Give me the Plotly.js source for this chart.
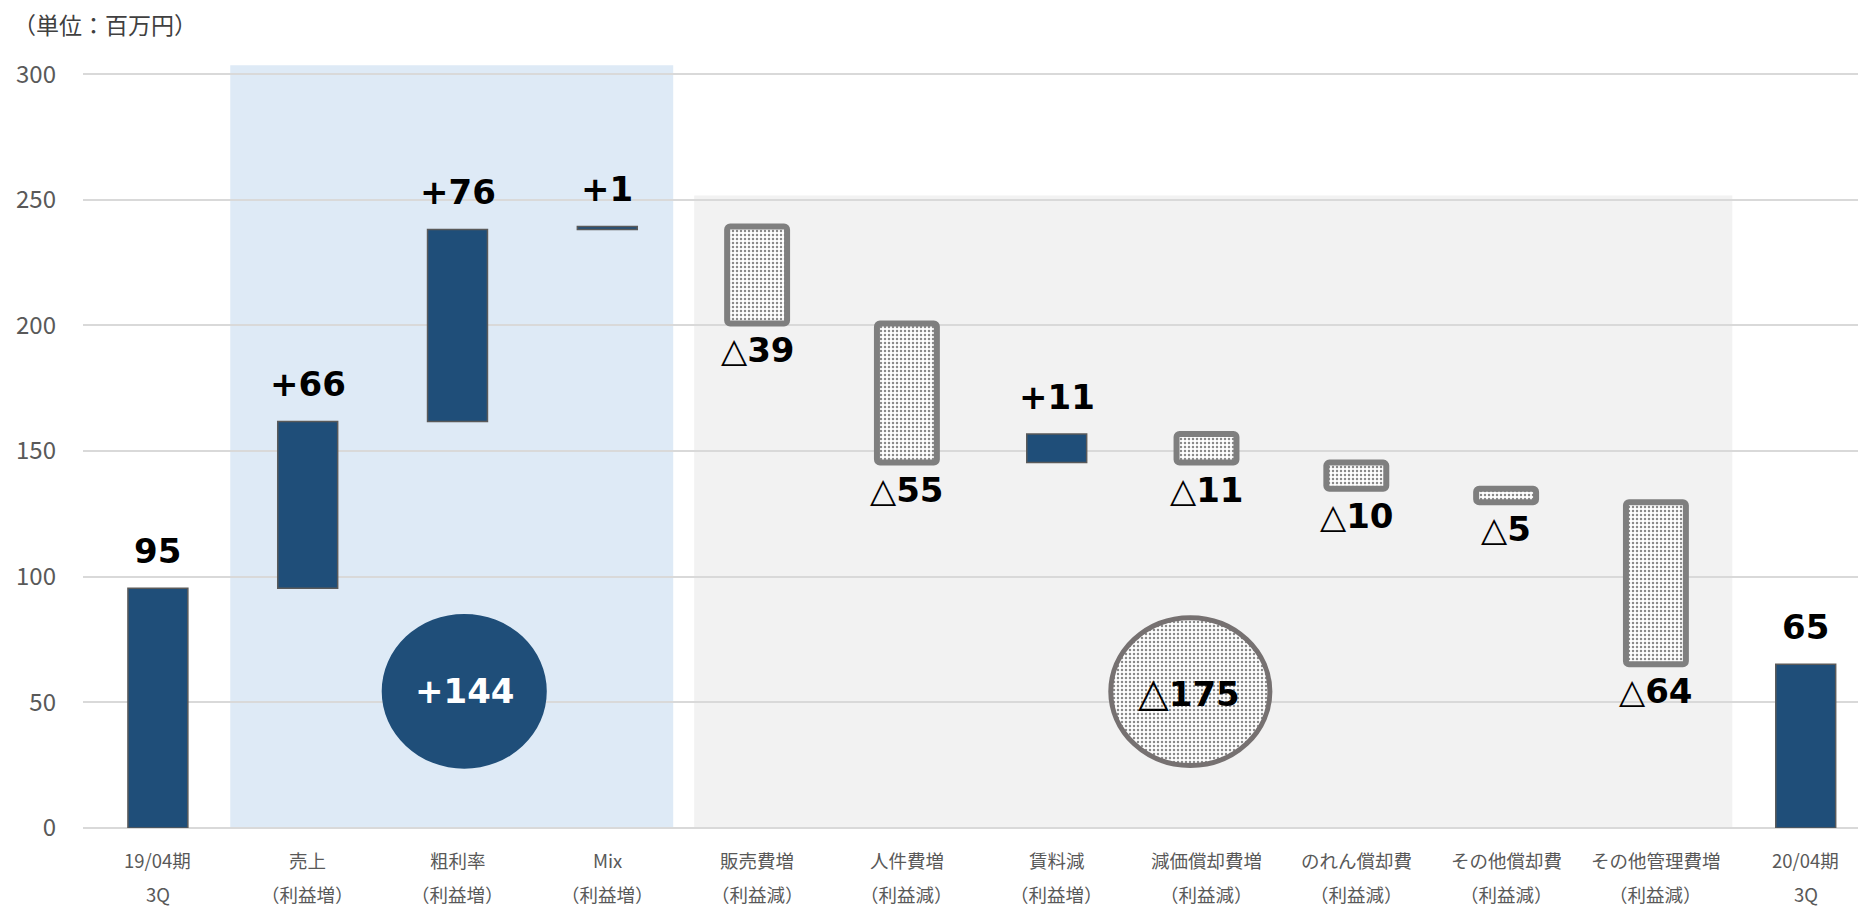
<!DOCTYPE html>
<html>
<head>
<meta charset="utf-8">
<script src="https://cdn.plot.ly/plotly-3.0.1.min.js"></script>
<style>html,body{margin:0;padding:0;background:#fff;}#chart{width:1858px;height:907px;}</style>
</head>
<body>
<div id="chart"></div>
<script>
// ---- data ----
const categories = ['19/04期','売上','粗利率','Mix','販売費増','人件費増','賃料減','減価償却費増','のれん償却費','その他償却費','その他管理費増','20/04期'];
const subLabels = ['3Q','（利益増）','（利益増）','（利益増）','（利益減）','（利益減）','（利益増）','（利益減）','（利益減）','（利益減）','（利益減）','3Q'];
const startValue = 95.4;
const deltas = [66.4, 76.4, 1.2, -38.6, -55.4, 11.4, -11.4, -10.4, -5.4, -64.4];
const endValue = 65.2;
const summaryTexts = ['+144', '△175'];
const yTicks = [0, 50, 100, 150, 200, 250, 300];

// ---- derived waterfall geometry ----
const solidX = [], solidBase = [], solidH = [];
const hatchX = [], hatchBase = [], hatchH = [];
const labelAnn = [];
const BLUE = '#1F4E79';
const labelFont = {family: 'DejaVu Sans, Verdana, sans-serif', size: 34, color: '#000000'};
const fmt = v => String(Math.round(Math.abs(v)));

solidX.push(0); solidBase.push(0); solidH.push(startValue);
labelAnn.push({x: 0, y: startValue, yshift: 37, text: '<b>' + fmt(startValue) + '</b>'});
let level = startValue;
deltas.forEach((d, k) => {
  const i = k + 1;
  if (d >= 0) {
    solidX.push(i); solidBase.push(level); solidH.push(d);
    labelAnn.push({x: i, y: level + d, yshift: 37, text: '<b>+' + fmt(d) + '</b>'});
  } else {
    hatchX.push(i); hatchBase.push(level + d); hatchH.push(-d);
    labelAnn.push({x: i, y: level + d, yshift: -27, text: '△<b>' + fmt(d) + '</b>'});
  }
  level += d;
});
const lastI = categories.length - 1;
solidX.push(lastI); solidBase.push(0); solidH.push(endValue);
labelAnn.push({x: lastI, y: endValue, yshift: 37, text: '<b>' + fmt(endValue) + '</b>'});

const traces = [
  {
    type: 'bar', x: solidX, y: solidH, base: solidBase, width: 0.4,
    marker: {color: BLUE, line: {color: '#5a5a5a', width: 1.5}},
    hoverinfo: 'skip', showlegend: false
  },
  {
    type: 'bar', x: hatchX, y: hatchH, base: hatchBase, width: 0.4,
    marker: {
      color: '#ffffff',
      cornerradius: 3,
      line: {color: '#7f7f7f', width: 6},
      pattern: {shape: '.', fgcolor: '#8a8a8a', bgcolor: '#ffffff', size: 4, solidity: 0.3}
    },
    hoverinfo: 'skip', showlegend: false
  }
];

const annotations = [];
labelAnn.forEach(a => annotations.push({
  x: a.x, y: a.y, xref: 'x', yref: 'y', yshift: a.yshift, yanchor: 'middle',
  text: a.text, showarrow: false, font: labelFont
}));
const catFont = {family: 'Noto Sans CJK JP', size: 18.5, color: '#595959'};
categories.forEach((c, i) => {
  annotations.push({x: i, y: 0, xref: 'x', yref: 'paper', yanchor: 'middle', yshift: -32,
    text: c, showarrow: false, font: catFont});
  annotations.push({x: i, y: 0, xref: 'x', yref: 'paper', yanchor: 'middle', yshift: -66,
    text: subLabels[i], showarrow: false, font: catFont});
});
// summary badges
annotations.push({x: 2.045, y: 54.4, xref: 'x', yref: 'y', text: '<b>' + summaryTexts[0] + '</b>', showarrow: false,
  font: {family: 'DejaVu Sans, Verdana, sans-serif', size: 34, color: '#ffffff'}});
annotations.push({x: 6.88, y: 54.3, xref: 'x', yref: 'y',
  text: '<span style="font-size:40px">△</span>' + '<b>' + summaryTexts[1].replace('△', '') + '</b>', showarrow: false,
  font: {family: 'DejaVu Sans, Verdana, sans-serif', size: 34, color: '#000000'}});

const shapes = [
  {type: 'rect', xref: 'x', yref: 'y', x0: 0.483, x1: 3.44, y0: 0, y1: 303.5, fillcolor: '#DEEAF6', line: {width: 0}, layer: 'below'},
  {type: 'rect', xref: 'x', yref: 'y', x0: 3.58, x1: 10.51, y0: 0, y1: 251.7, fillcolor: '#F2F2F2', line: {width: 0}, layer: 'below'},
  {type: 'circle', xref: 'x', yref: 'y', x0: 1.494, x1: 2.596, y0: 23.6, y1: 85.2, fillcolor: BLUE, line: {width: 0}, layer: 'above'},
  {type: 'circle', xref: 'x', yref: 'y', x0: 6.361, x1: 7.423, y0: 24.9, y1: 83.7, fillcolor: '#e2e2e2', line: {color: '#767171', width: 5}, layer: 'above'}
];

const layout = {
  width: 1858, height: 907,
  margin: {l: 83, r: 0, t: 49, b: 79, pad: 0},
  paper_bgcolor: '#ffffff', plot_bgcolor: 'rgba(0,0,0,0)',
  title: {text: '（単位：百万円）', font: {family: 'Noto Sans CJK JP', size: 23, color: '#404040'},
    x: 13 / 1858, xref: 'container', xanchor: 'left', y: 1 - 26 / 907, yref: 'container', yanchor: 'middle'},
  xaxis: {range: [-0.5, 11.349], showticklabels: false, showgrid: false, zeroline: false, showline: false, ticks: '', fixedrange: true},
  yaxis: {range: [0, 310], tickvals: yTicks, ticktext: yTicks.map(String), showgrid: true, gridcolor: '#D9D9D9', gridwidth: 2,
    zeroline: true, zerolinecolor: '#D9D9D9', zerolinewidth: 2, showline: false, ticks: '', ticklabelstandoff: 26,
    tickfont: {family: 'Noto Sans CJK JP', size: 24, color: '#595959'}, fixedrange: true},
  bargap: 0.6,
  shapes: shapes,
  annotations: annotations,
  showlegend: false
};

Plotly.newPlot('chart', traces, layout, {displayModeBar: false, staticPlot: true}).then(() => {
  try {
    const tr = document.querySelectorAll('.barlayer .trace');
    const hp = tr[1] && tr[1].querySelector('path');
    const fill = hp && hp.style.fill;
    const circ = document.querySelector('.layer-above .shapelayer path[data-index="3"]');
    if (fill && circ && fill.indexOf('url') >= 0) {
      circ.style.fill = fill;
      circ.style.fillOpacity = 1;
    }
  } catch (e) {}
});
</script>
</body>
</html>
